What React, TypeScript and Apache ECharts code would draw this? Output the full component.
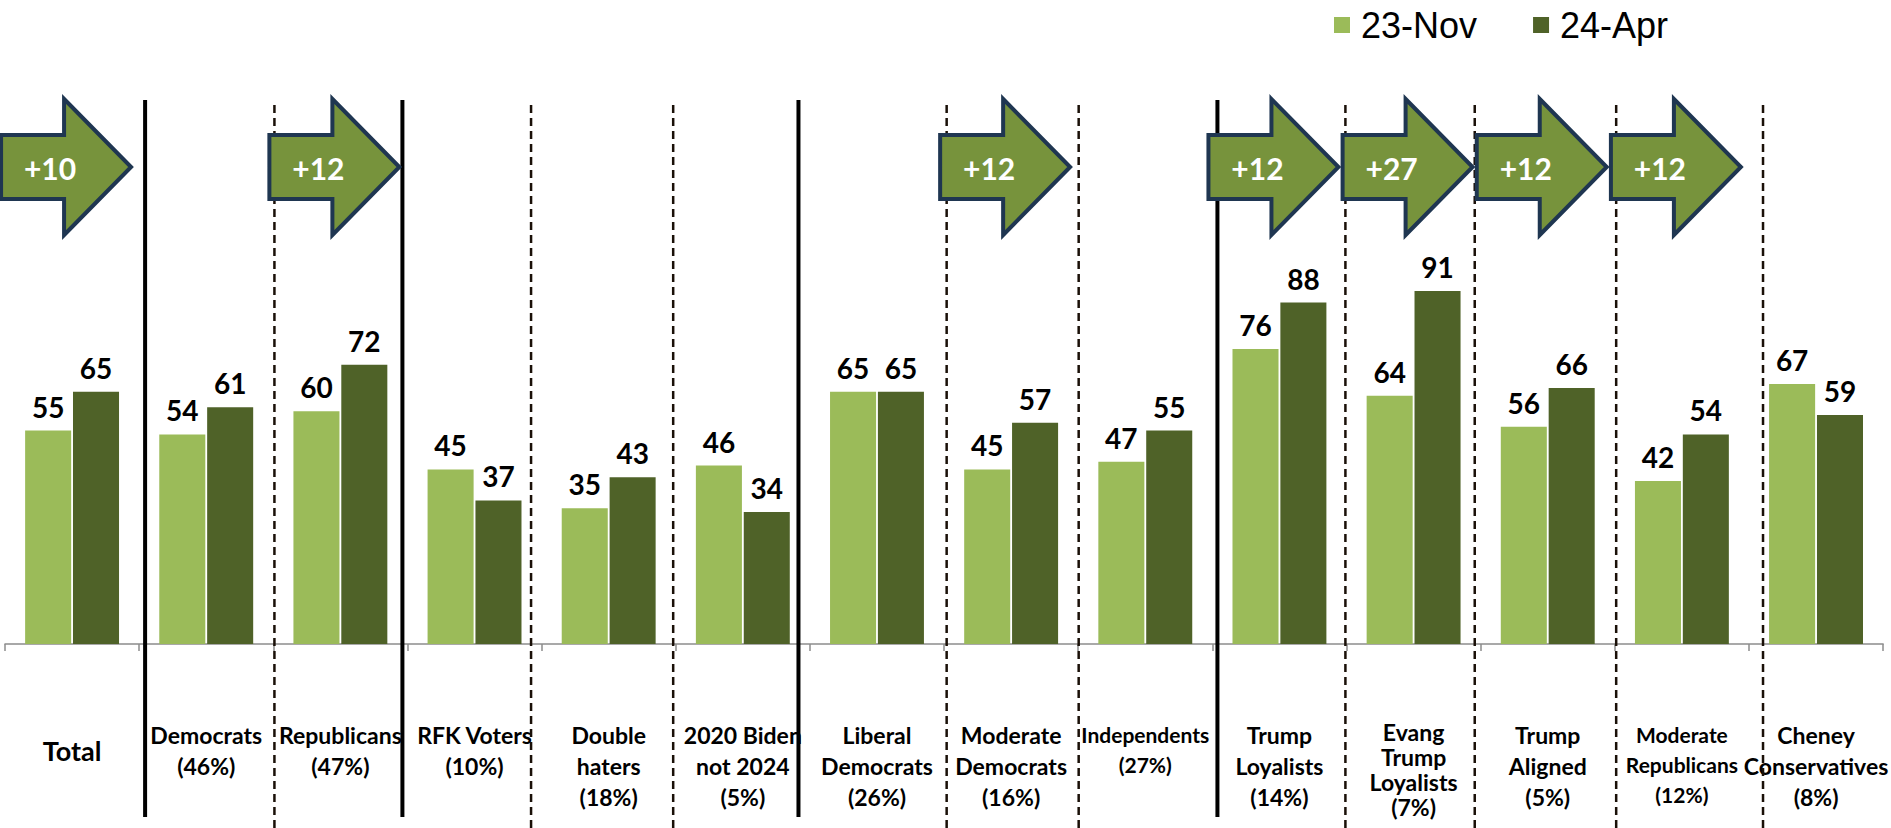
import React, { useEffect, useRef } from "react";
import * as echarts from "echarts";

// ---- data ----
const categories = [
  "Total",
  "Democrats\n(46%)",
  "Republicans\n(47%)",
  "RFK Voters\n(10%)",
  "Double\nhaters\n(18%)",
  "2020 Biden\nnot 2024\n(5%)",
  "Liberal\nDemocrats\n(26%)",
  "Moderate\nDemocrats\n(16%)",
  "Independents\n(27%)",
  "Trump\nLoyalists\n(14%)",
  "Evang\nTrump\nLoyalists\n(7%)",
  "Trump\nAligned\n(5%)",
  "Moderate\nRepublicans\n(12%)",
  "Cheney\nConservatives\n(8%)",
];
const nov23 = [55, 54, 60, 45, 35, 46, 65, 45, 47, 76, 64, 56, 42, 67];
const apr24 = [65, 61, 72, 37, 43, 34, 65, 57, 55, 88, 91, 66, 54, 59];
const seriesNames = ["23-Nov", "24-Apr"];

// change arrows (category index + label)
const arrowIndex = [0, 2, 7, 9, 10, 11, 12];
const arrowLabels = ["+10", "+12", "+12", "+12", "+27", "+12", "+12"];

// separator positions, in category-boundary units
const solidSeps = [1.04, 2.95, 5.89, 9.0];
const dashedSeps = [2.0, 3.905, 4.96, 6.99, 7.97, 9.95, 10.91, 11.96, 13.05];

// label style key per category
const labelStyleKeys = ["t", "n", "n", "n", "n", "n", "n", "n", "s", "n", "e", "n", "s", "n"];

const FONT = 'Lato, "Open Sans", sans-serif';
const LIGHT = "#9bbb59";
const DARK = "#4f6228";

export default function App() {
  const ref = useRef<HTMLDivElement>(null);

  useEffect(() => {
    if (!ref.current) return;
    const chart = echarts.init(ref.current, null, { renderer: "svg" });

    const barLabel = {
      show: true,
      position: "top",
      distance: 10,
      fontFamily: FONT,
      fontWeight: "bold",
      fontSize: 28,
      color: "#000",
    };

    const sepLine = (stroke: string, width: number, dash?: number[]) => (_p: any, api: any) => {
      const x = api.value(0);
      const a = api.coord([x, 0]);
      const b = api.coord([x, 1]);
      return {
        type: "line",
        shape: { x1: a[0], y1: a[1], x2: b[0], y2: b[1] },
        style: { stroke, lineWidth: width, lineDash: dash || null },
      };
    };

    const option: any = {
      animation: false,
      legend: {
        data: seriesNames,
        left: 1329,
        top: 2,
        icon: "rect",
        itemWidth: 16,
        itemHeight: 16,
        itemGap: 56,
        textStyle: {
          fontFamily: '"Liberation Sans", Arial, sans-serif',
          fontSize: 36,
          color: "#000",
          padding: [0, 0, 0, 6],
        },
      },
      grid: [
        { left: 5, right: 0, top: 256, bottom: 184 },
        { left: 5, right: 0, top: 100, bottom: 11 },
        { left: 5, right: 0, top: 100, bottom: 0 },
      ],
      xAxis: [
        {
          type: "category",
          gridIndex: 0,
          data: categories,
          axisLine: { lineStyle: { color: "#8c8c8c", width: 1.5 } },
          axisTick: { show: true, length: 7, lineStyle: { color: "#8c8c8c", width: 1.5 } },
          axisLabel: {
            interval: 0,
            margin: 75,
            verticalAlign: "top",
            hideOverlap: false,
            formatter: (val: string, idx: number) => {
              const k = labelStyleKeys[idx];
              return val
                .split("\n")
                .map((l) => `{${k}|${l}}`)
                .join("\n");
            },
            rich: {
              n: { fontFamily: FONT, fontSize: 23, fontWeight: "bold", lineHeight: 31, color: "#000" },
              s: { fontFamily: FONT, fontSize: 21, fontWeight: "bold", lineHeight: 30, color: "#000" },
              t: { fontFamily: FONT, fontSize: 27, fontWeight: "bold", lineHeight: 62, color: "#000" },
              e: { fontFamily: FONT, fontSize: 23, fontWeight: "bold", lineHeight: 25, color: "#000" },
            },
          },
        },
        { type: "value", gridIndex: 1, min: 0, max: 14, show: false },
        { type: "value", gridIndex: 2, min: 0, max: 14, show: false },
      ],
      yAxis: [
        { type: "value", gridIndex: 0, min: 0, max: 100, show: false },
        { type: "value", gridIndex: 1, min: 0, max: 1, show: false },
        { type: "value", gridIndex: 2, min: 0, max: 1, show: false },
      ],
      series: [
        {
          name: seriesNames[0],
          type: "bar",
          xAxisIndex: 0,
          yAxisIndex: 0,
          data: nov23,
          barCategoryGap: "30%",
          barGap: "4%",
          itemStyle: { color: LIGHT },
          label: barLabel,
        },
        {
          name: seriesNames[1],
          type: "bar",
          xAxisIndex: 0,
          yAxisIndex: 0,
          data: apr24,
          barCategoryGap: "30%",
          barGap: "4%",
          itemStyle: { color: DARK },
          label: barLabel,
        },
        {
          type: "custom",
          xAxisIndex: 1,
          yAxisIndex: 1,
          silent: true,
          z: 3,
          clip: false,
          encode: { x: 0, y: 1 },
          data: solidSeps.map((v) => [v, 0]),
          renderItem: sepLine("#000", 4),
        },
        {
          type: "custom",
          xAxisIndex: 2,
          yAxisIndex: 2,
          silent: true,
          z: 3,
          clip: false,
          encode: { x: 0, y: 1 },
          data: dashedSeps.map((v) => [v, 0]),
          renderItem: sepLine("#1a1008", 2.5, [8, 5]),
        },
        {
          type: "custom",
          xAxisIndex: 0,
          yAxisIndex: 0,
          silent: true,
          z: 6,
          clip: false,
          encode: { x: 0, y: 1 },
          data: arrowIndex.map((i) => [i, 0]),
          renderItem: (p: any, api: any) => {
            const ci = api.value(0);
            const cx = api.coord([ci, 0])[0] - 6;
            const L = cx - 65;
            const R = cx + 65;
            const hb = L + 63;
            const cy = 167;
            const points = [
              [L, cy - 32],
              [hb, cy - 32],
              [hb, cy - 68],
              [R, cy],
              [hb, cy + 68],
              [hb, cy + 32],
              [L, cy + 32],
            ];
            return {
              type: "group",
              children: [
                {
                  type: "polygon",
                  shape: { points },
                  style: { fill: "#77933c", stroke: "#1f3651", lineWidth: 4, lineJoin: "miter" },
                },
                {
                  type: "text",
                  style: {
                    text: arrowLabels[p.dataIndex],
                    x: L + 49,
                    y: cy + 1,
                    fill: "#fff",
                    fontSize: 30,
                    fontWeight: "bold",
                    fontFamily: FONT,
                    align: "center",
                    verticalAlign: "middle",
                  },
                },
              ],
            };
          },
        },
      ],
    };

    chart.setOption(option);
    return () => chart.dispose();
  }, []);

  return (
    <div
      ref={ref}
      style={{ position: "fixed", left: 0, top: 0, width: 1891, height: 828, background: "#fff" }}
    />
  );
}
